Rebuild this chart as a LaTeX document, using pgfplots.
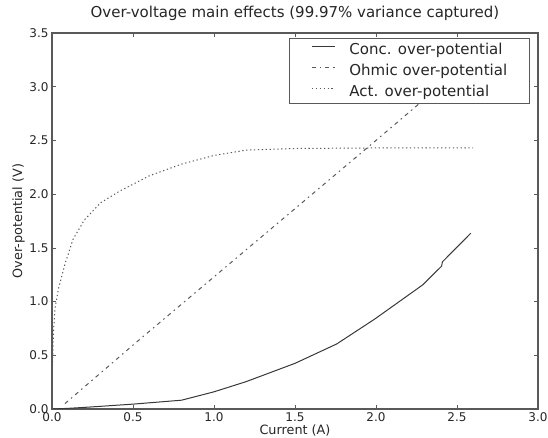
\documentclass[border=0pt]{standalone}
\usepackage{fontspec}
\setmainfont{DejaVu Sans}
\usepackage{pgfplots}
\pgfplotsset{compat=1.18}
\definecolor{ln}{gray}{0.22}
\definecolor{ln2}{gray}{0.35}
\definecolor{fr}{gray}{0.35}
\begin{document}
\begin{tikzpicture}
\begin{axis}[
  name=ax,
  scale only axis,
  width=486bp, height=376bp,
  xmin=0, xmax=3, ymin=0, ymax=3.5,
  xtick={0,0.5,...,3.0}, ytick={0,0.5,...,3.5},
  /pgf/number format/fixed,
  /pgf/number format/fixed zerofill,
  /pgf/number format/precision=1,
  /pgf/number format/assume math mode=true,
  tick align=inside, major tick length=4bp,
  tick style={fr, line width=0.6bp},
  axis line style={fr, line width=1.2bp},
  ticklabel style={font=\fontsize{12bp}{14bp}\selectfont, text=black!85},
  title={Over-voltage main effects (99.97\% variance captured)},
  title style={font=\fontsize{15bp}{17bp}\selectfont, text=black!85,
    at={(axis description cs:0.5,1.0258)}, anchor=base, inner sep=0pt},
  xlabel={Current (A)}, ylabel={Over-potential (V)},
  label style={font=\fontsize{12.8bp}{15bp}\selectfont, text=black!85, inner sep=0pt},
  xlabel style={at={(axis description cs:0.5,-0.0691)}, anchor=base},
  ylabel style={at={(axis description cs:-0.0617,0.5)}, anchor=base},
  legend cell align=left,
  legend style={at={(rel axis cs:1,1)}, anchor=north east, xshift=-8.4bp, yshift=-5.4bp,
    draw=fr, line width=0.9bp, font=\fontsize{15bp}{17bp}\selectfont,
    inner xsep=22bp, inner ysep=4.5bp, row sep=7bp, column sep=14bp,
    nodes={text=black!85, inner sep=0pt, text height=11bp, text depth=3bp}},
  legend image code/.code={\draw[#1] (0bp,4bp) -- (23bp,4bp);},
]
\addplot[ln, line width=1bp] coordinates {
 (0,0) (0.1,0.006) (0.2,0.015) (0.3,0.025) (0.497,0.045) (0.8,0.082) (1.0,0.16) (1.197,0.254)
 (1.5,0.425) (1.757,0.605) (1.99,0.835) (2.288,1.155) (2.405,1.33) (2.41,1.37) (2.585,1.636)
};
\addlegendentry{Conc. over-potential}
\addplot[ln2, line width=1bp, dash pattern=on 4bp off 4bp on 1.5bp off 4bp] coordinates {
 (0.08,0.05) (0.5,0.595) (1.0,1.23) (1.5,1.865) (2.0,2.50) (2.6,3.27)
};
\addlegendentry{Ohmic over-potential}
\addplot[ln2, line width=1bp, dash pattern=on 1.3bp off 2.6bp] coordinates {
 (0,0) (0.003,0.4) (0.01,0.75) (0.02,0.95) (0.04,1.12) (0.08,1.35) (0.13,1.58) (0.2,1.76)
 (0.3,1.92) (0.42,2.03) (0.6,2.17) (0.8,2.28) (1.0,2.36) (1.2,2.41) (1.5,2.425) (2.0,2.43) (2.6,2.43)
};
\addlegendentry{Act. over-potential}
\end{axis}
\pgfresetboundingbox
\useasboundingbox ([shift={(-52bp,-29bp)}]ax.south west) rectangle ([shift={(10bp,33bp)}]ax.north east);
\end{tikzpicture}
\end{document}
